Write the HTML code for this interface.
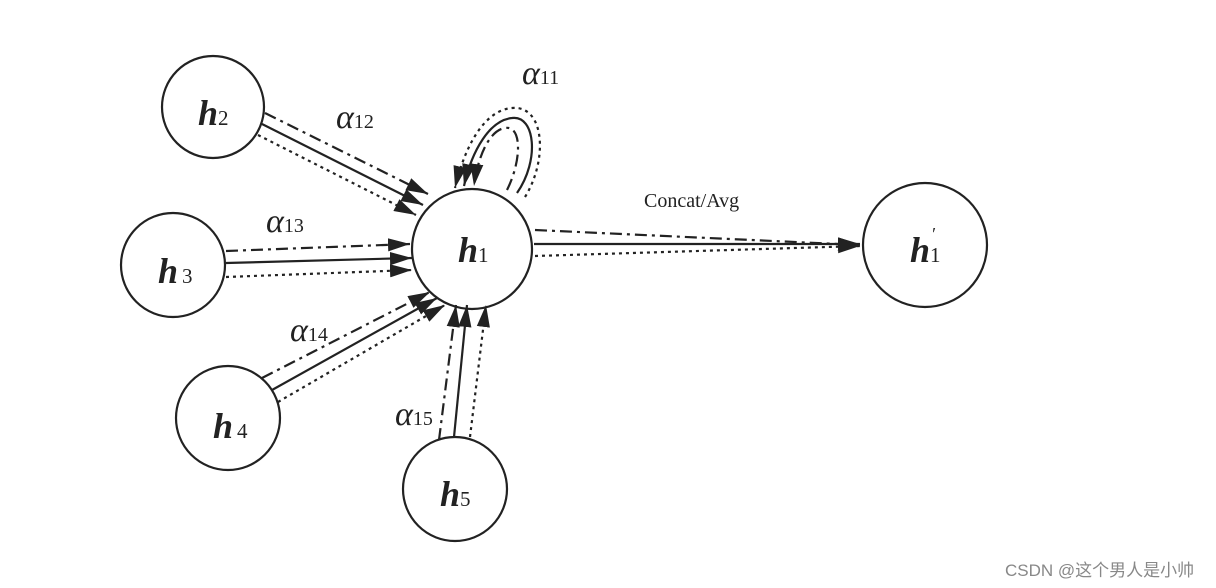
<!DOCTYPE html>
<html><head><meta charset="utf-8"><style>
html,body{margin:0;padding:0;background:#fff;}
svg{display:block;}
text{font-family:"Liberation Serif",serif;fill:#222;}
.a{font-style:italic;font-size:34px;}
.s{font-size:20px;font-style:normal;}
.h{font-style:italic;font-weight:bold;font-size:36px;}
.hs{font-size:21px;}
</style></head><body>
<svg width="1216" height="588" viewBox="0 0 1216 588" xmlns="http://www.w3.org/2000/svg">
<defs>
<marker id="ar" viewBox="0 0 10 10" refX="10" refY="5" markerWidth="9" markerHeight="9" markerUnits="userSpaceOnUse" orient="auto">
<path d="M0,0 L10,5 L0,10 z" fill="#222"/></marker>
<marker id="ar2" viewBox="0 0 10 10" refX="10" refY="5" markerWidth="22" markerHeight="22" markerUnits="userSpaceOnUse" orient="auto">
<path d="M0,2 L10,5 L0,8 z" fill="#222"/></marker>
</defs>
<g fill="none" stroke="#222" stroke-width="2.2">
<circle cx="213" cy="107" r="51"/>
<circle cx="173" cy="265" r="52"/>
<circle cx="472" cy="249" r="60"/>
<circle cx="228" cy="418" r="52"/>
<circle cx="455" cy="489" r="52"/>
<circle cx="925" cy="245" r="62"/>
</g>
<g fill="none" stroke="#222" stroke-width="2.2" marker-end="url(#ar2)">
<!-- h2 -->
<path d="M265 113 L428 194" stroke-dasharray="12,5,3,5"/>
<path d="M262 124 L423 205"/>
<path d="M258 135 L416 215" stroke-dasharray="3,4"/>
<!-- h3 -->
<path d="M226 251 L410 244" stroke-dasharray="12,5,3,5"/>
<path d="M226 263 L412 258"/>
<path d="M226 277 L412 270" stroke-dasharray="3,4"/>
<!-- h4 -->
<path d="M262 378 L430 292" stroke-dasharray="12,5,3,5"/>
<path d="M272 390 L437 298"/>
<path d="M278 402 L445 305" stroke-dasharray="3,4"/>
<!-- h5 -->
<path d="M439 440 L456 305" stroke-dasharray="12,5,3,5"/>
<path d="M454 437 L467 305"/>
<path d="M470 437 L486 305" stroke-dasharray="3,4"/>
<!-- loop -->
<path d="M525 197 C548 160 545 105 512 108 C485 110 465 145 455 188" stroke-dasharray="3,4"/>
<path d="M517 193 C540 160 535 115 512 118 C490 120 472 150 464 186"/>
<path d="M507 190 C522 160 522 125 505 128 C490 130 478 155 474 186" stroke-dasharray="12,5,3,5"/>
<!-- output -->
<path d="M535 230 L860 245" stroke-dasharray="12,5,3,5"/>
<path d="M534 244 L860 244"/>
<path d="M535 256 L860 246" stroke-dasharray="3,4"/>
</g>
<text class="a" x="522" y="84">α<tspan class="s">11</tspan></text>
<text class="a" x="336" y="128">α<tspan class="s">12</tspan></text>
<text class="a" x="266" y="232">α<tspan class="s">13</tspan></text>
<text class="a" x="290" y="341">α<tspan class="s">14</tspan></text>
<text class="a" x="395" y="425">α<tspan class="s">15</tspan></text>
<text x="644" y="207" style="font-size:20px;">Concat/Avg</text>
<text class="h" x="198" y="125">h<tspan class="hs" style="font-weight:normal;font-style:normal">2</tspan></text>
<text class="h" x="158" y="283">h<tspan class="hs" dx="4" style="font-weight:normal;font-style:normal">3</tspan></text>
<text class="h" x="458" y="262">h<tspan class="hs" style="font-weight:normal;font-style:normal">1</tspan></text>
<text class="h" x="213" y="438">h<tspan class="hs" dx="4" style="font-weight:normal;font-style:normal">4</tspan></text>
<text class="h" x="440" y="506">h<tspan class="hs" style="font-weight:normal;font-style:normal">5</tspan></text>
<text class="h" x="910" y="262">h<tspan class="hs" style="font-weight:normal;font-style:normal">1</tspan></text>
<text x="931" y="240" style="font-size:18px;font-style:italic;">′</text>
<text x="1005" y="576" style="font-family:'Liberation Sans','Noto Sans CJK SC',sans-serif;font-size:17px;fill:#888;">CSDN @这个男人是小帅</text>
</svg>
</body></html>
